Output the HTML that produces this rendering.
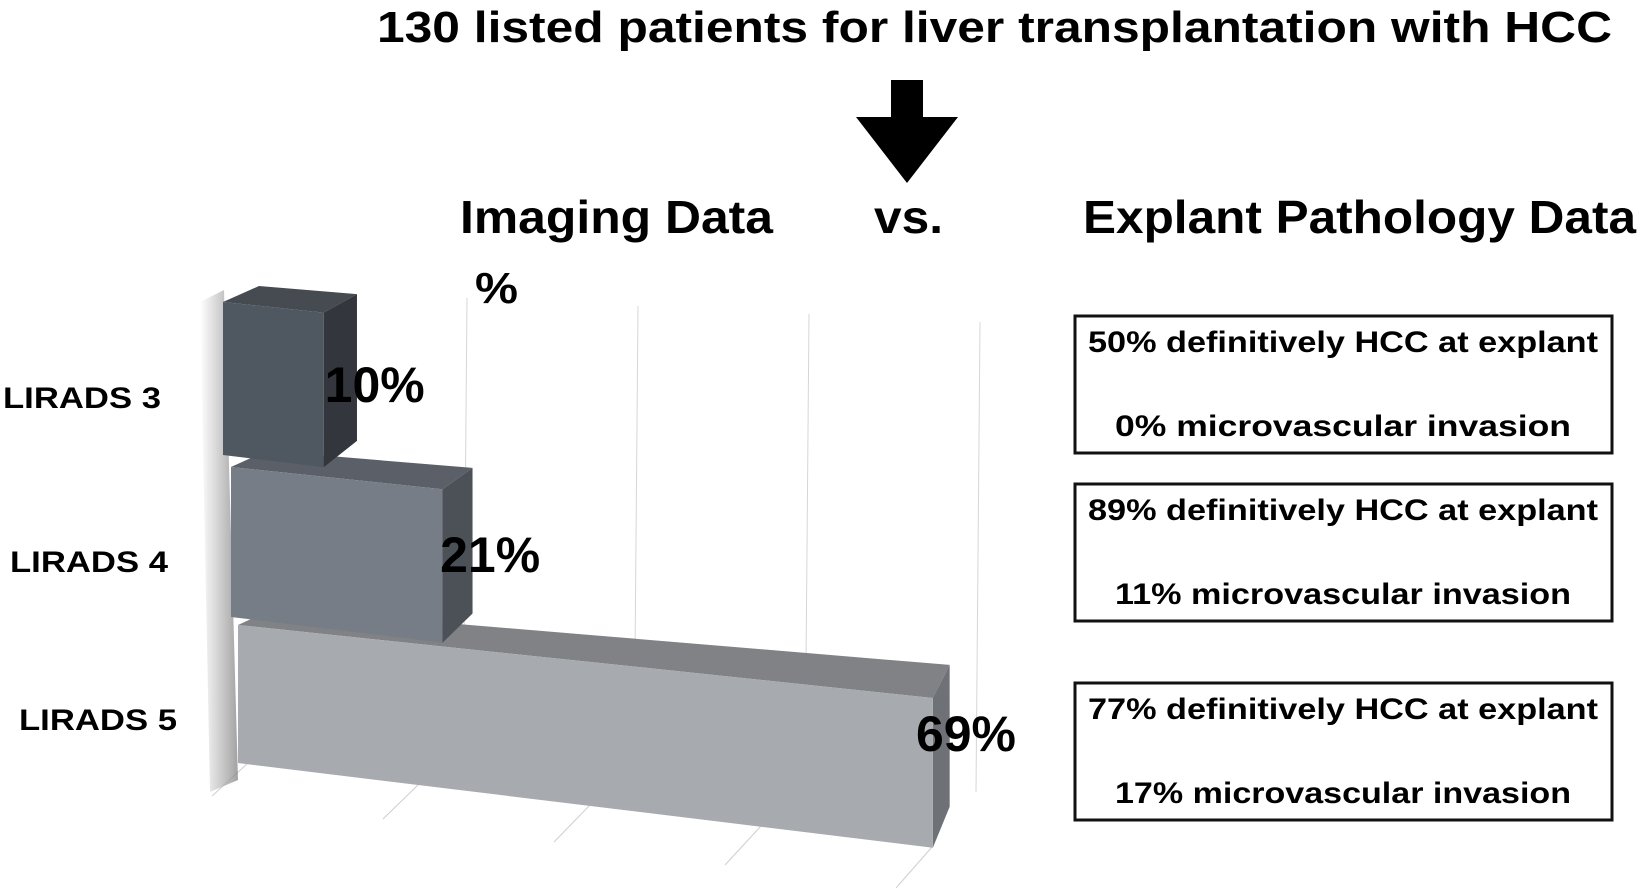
<!DOCTYPE html>
<html><head><meta charset="utf-8"><style>
html,body{margin:0;padding:0;background:#fff;}
svg{display:block;font-family:"Liberation Sans",Arial,sans-serif;font-weight:bold;}
</style></head><body>
<svg id="chart" width="1641" height="894" viewBox="0 0 1641 894" xmlns="http://www.w3.org/2000/svg">
<defs>
<linearGradient id="wallShadow" x1="0" x2="1" y1="0" y2="0">
<stop offset="0" stop-color="#fff"/><stop offset="0.6" stop-color="#b0b0b0"/><stop offset="1" stop-color="#7a7a7a"/>
</linearGradient>
</defs>
<text x="377" y="42" font-size="44" textLength="1235" lengthAdjust="spacingAndGlyphs">130 listed patients for liver transplantation with HCC</text>
<polygon points="891,80 923,80 923,117 958,117 907,183 856,117 891,117" fill="#000"/>
<text x="460" y="233" font-size="46" textLength="313" lengthAdjust="spacingAndGlyphs">Imaging Data</text>
<text x="874" y="233" font-size="46" textLength="69" lengthAdjust="spacingAndGlyphs">vs.</text>
<text x="1083" y="233" font-size="46" textLength="553" lengthAdjust="spacingAndGlyphs">Explant Pathology Data</text>
<text x="475" y="303" font-size="44" textLength="43" lengthAdjust="spacingAndGlyphs">%</text>
<g id="grid"></g>
<polygon points="200,302 224,290 238,780 210,792" fill="url(#wallShadow)" opacity="0.7"/>
<g id="bars"></g>
<g id="labels"></g>
<g id="cats"></g>
<g id="boxes"></g>
</svg>
<script>
var categories = ["LIRADS 3","LIRADS 4","LIRADS 5"];
var values = [10, 21, 69];
var valueLabels = ["10%","21%","69%"];
var pathHCC = ["50% definitively HCC at explant","89% definitively HCC at explant","77% definitively HCC at explant"];
var pathMVI = ["0% microvascular invasion","11% microvascular invasion","17% microvascular invasion"];

var NS="http://www.w3.org/2000/svg";
function mk(tag, attrs, parent){var e=document.createElementNS(NS,tag);for(var k in attrs)e.setAttribute(k,attrs[k]);parent.appendChild(e);return e;}
var bars=document.getElementById('bars'), labels=document.getElementById('labels'), cats=document.getElementById('cats'), boxes=document.getElementById('boxes'), grid=document.getElementById('grid');
// layout (not data)
var L=[223,231,238], T=[302,467,625], H=[153,150,138];
var catY=[408,572,730], catX=[3,10,19];
var boxY=[316,484,683];
var colors=[{f:"#4f5760",s:"#33373d",t:"#464b52"},{f:"#767d86",s:"#4c5158",t:"#5b6068"},{f:"#a7aaae",s:"#6e7176",t:"#808286"}];
var unit=10.07, topSlope=0.105, botSlope=0.122;
function xScale(i,v){return L[i]+v*unit;}
function depth(x){return {dx:36-0.027*(x-223), dy:-16-0.024*(x-223)};}
var gx=[0,1,2,3,4];
gx.forEach(function(k){
  var x=296+k*171;
  var l=mk('line',{x1:x,y1:290+k*8,x2:x-4,y2:760+k*8,stroke:"#d6d6d6","stroke-width":1},grid);
  
  
  var f=mk('line',{x1:x-48,y1:763+k*21,x2:x-84,y2:796+k*23,stroke:"#cfcfcf","stroke-width":1},grid);
  
  
});
for(var i=values.length-1;i>=0;i--){
  var v=values[i];
  var x0=L[i], x1=xScale(i,v), w=x1-x0;
  var tl=[x0,T[i]], tr=[x1,T[i]+w*topSlope], br=[x1,T[i]+H[i]+w*botSlope], bl=[x0,T[i]+H[i]];
  var d0=depth(x0), d1=depth(x1);
  var g=mk('g',{},bars);
  
  
  var c=colors[i];
  mk('polygon',{points:[tl,tr,[tr[0]+d1.dx,tr[1]+d1.dy],[tl[0]+d0.dx,tl[1]+d0.dy]].join(' '),fill:c.t},g);
  mk('polygon',{points:[tr,br,[br[0]+d1.dx,br[1]+d1.dy-8],[tr[0]+d1.dx,tr[1]+d1.dy]].join(' '),fill:c.s},g);
  mk('polygon',{points:[tl,tr,br,bl].join(' '),fill:c.f},g);
  var t=mk('text',{x:x1+4-w*0.03,y:T[i]+H[i]*0.5+18+w*0.056,"font-size":50,textLength:100,lengthAdjust:"spacingAndGlyphs",fill:"#000"},labels);
  t.textContent=valueLabels[i];
  
  
  var ct=mk('text',{x:catX[i],y:catY[i],"font-size":30,textLength:158,lengthAdjust:"spacingAndGlyphs"},cats);
  ct.textContent=categories[i];
  
  
  var bg=mk('g',{},boxes);
  
  
  mk('rect',{x:1075,y:boxY[i],width:537,height:137,fill:"#fff",stroke:"#111","stroke-width":3},bg);
  var a=mk('text',{x:1343,y:boxY[i]+36,"font-size":30,"text-anchor":"middle",textLength:510,lengthAdjust:"spacingAndGlyphs"},bg);
  a.textContent=pathHCC[i];
  var b=mk('text',{x:1343,y:boxY[i]+120,"font-size":30,"text-anchor":"middle",textLength:456,lengthAdjust:"spacingAndGlyphs"},bg);
  b.textContent=pathMVI[i];
}
</script>
</body></html>
